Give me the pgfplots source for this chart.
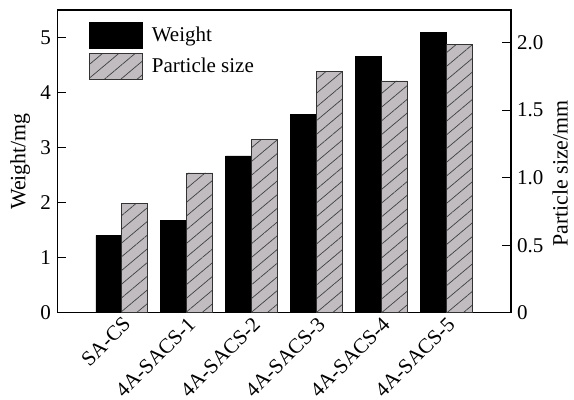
\documentclass[border=0pt]{standalone}
\usepackage{fontspec}
\setmainfont{Liberation Serif}
\usepackage{pgfplots}
\pgfplotsset{compat=1.18}
\usetikzlibrary{patterns.meta}
\definecolor{barg}{RGB}{192,188,192}
\pgfplotstableread{
x w
-0.2 1.41
0.8 1.68
1.8 2.85
2.8 3.60
3.8 4.66
4.8 5.10
}\weight
\pgfplotstableread{
x p
0.2 0.81
1.2 1.035
2.2 1.285
3.2 1.785
4.2 1.715
5.2 1.985
}\psize
\begin{document}
\begin{tikzpicture}[font=\fontsize{12}{14}\selectfont]
\useasboundingbox (-32.6pt,-49.7pt) rectangle (295.4pt,178.8pt);
\pgfplotsset{
  every axis/.append style={
    width=259.4pt, height=173.1pt, scale only axis,
    xmin=-1, xmax=6,
    /pgf/number format/assume math mode=true,
    tick align=inside, major tick length=5pt,
    axis line style={line width=0.6pt},
    every tick/.style={line width=0.6pt, black},
    yticklabel style={font=\fontsize{12}{14}\selectfont},
  },
  /pgfplots/legend image code/.code={\draw[#1] (0pt,-7.4pt) rectangle (30.3pt,7.4pt);},
}
\begin{axis}[
  at={(0,0)}, anchor=south west,
  ymin=0, ymax=5.5,
  ytick={0,1,2,3,4,5},
  ytick pos=left,
  xtick={0,1,2,3,4,5},
  xticklabels={SA-CS,4A-SACS-1,4A-SACS-2,4A-SACS-3,4A-SACS-4,4A-SACS-5},
  xtick pos=bottom,
  xtick style={draw=none},
  xticklabel style={rotate=45, anchor=north east, inner sep=1pt, font=\fontsize{12}{14}\selectfont},
  ylabel={Weight/mg},
  ylabel style={at={(axis description cs:-0.0815,0.5)}, anchor=center, font=\fontsize{12.5}{14}\selectfont},
]
\addplot[ybar, bar width=0.4, bar shift=0, fill=black, draw=black] table[x=x,y=w]{\weight};
\end{axis}
\begin{axis}[
  at={(0,0)}, anchor=south west,
  ymin=0, ymax=2.24,
  axis y line*=right,
  axis x line=none,
  ytick={0,0.5,1,1.5,2},
  yticklabels={0,0.5,1.0,1.5,2.0},
  ylabel={Particle size/mm},
  ylabel style={at={(axis description cs:1.108,0.46)}, anchor=center, rotate=0, inner sep=0pt, font=\fontsize{12.5}{14}\selectfont},
  legend style={draw=none, fill=none, at={(0.07,0.96)}, anchor=north west,
    inner sep=0pt, row sep=2.5pt, column sep=3pt, cells={anchor=west},
    nodes={inner sep=2pt, font=\fontsize{12}{14}\selectfont}},
  legend cell align=left,
]
\addlegendimage{fill=black, draw=black}
\addlegendentry{Weight}
\addplot[ybar, bar width=0.4, bar shift=0, fill=barg, draw=black!80, line width=0.5pt,
  postaction={pattern={Lines[angle=40, distance=6pt, line width=0.4pt]}, pattern color=black!75}]
  table[x=x,y=p]{\psize};
\addlegendentry{Particle size}
\end{axis}
\end{tikzpicture}
\end{document}
